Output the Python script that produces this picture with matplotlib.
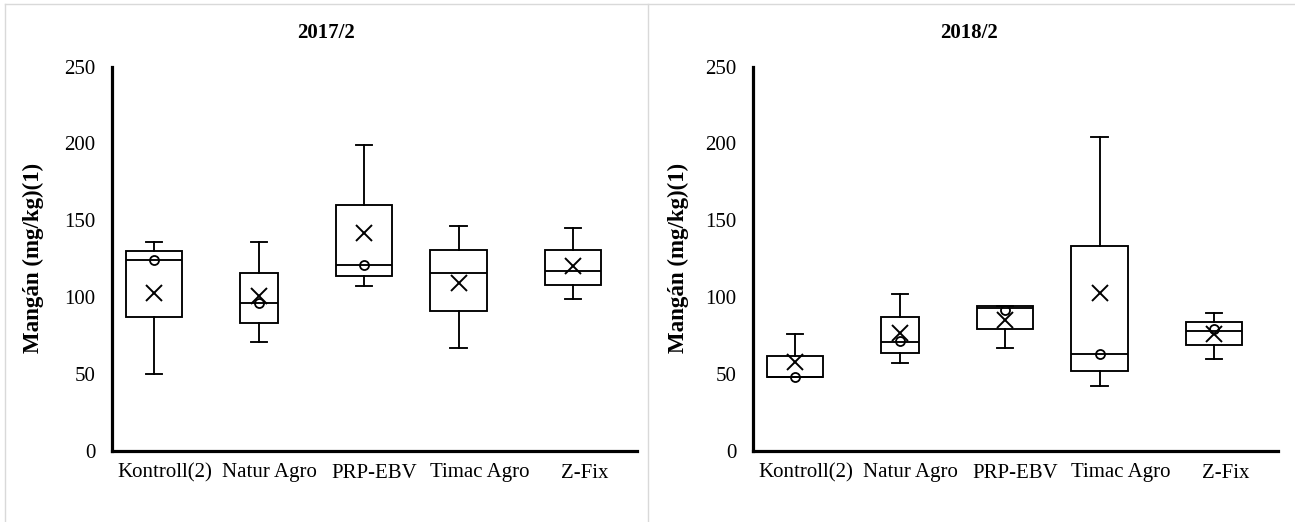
import matplotlib
matplotlib.use("Agg")
import matplotlib.pyplot as plt
from matplotlib.lines import Line2D

categories = ["Kontroll(2)", "Natur Agro", "PRP-EBV", "Timac Agro", "Z-Fix"]
y_ticks = [0, 50, 100, 150, 200, 250]
titles = ["2017/2", "2018/2"]
ylabel = "Mangán (mg/kg)(1)"

# 2017/2
min_2017 = [50, 71, 107, 67, 99]
q1_2017 = [87, 83, 114, 91, 108]
med_2017 = [124, 96, 121, 116, 117]
q3_2017 = [130, 116, 160, 131, 131]
max_2017 = [136, 136, 199, 146, 145]
mean_2017 = [103, 101, 142, 109, 120]
points_2017 = [[124], [96], [121], [], []]

# 2018/2
min_2018 = [48, 57, 67, 42, 60]
q1_2018 = [48, 64, 79, 52, 69]
med_2018 = [48, 71, 93, 63, 78]
q3_2018 = [62, 87, 94, 133, 84]
max_2018 = [76, 102, 94, 204, 90]
mean_2018 = [58, 77, 85, 103, 76]
points_2018 = [[48], [71.5], [92], [63], [79]]

datasets = [
    (min_2017, q1_2017, med_2017, q3_2017, max_2017, mean_2017, points_2017),
    (min_2018, q1_2018, med_2018, q3_2018, max_2018, mean_2018, points_2018),
]

# style / layout
box_widths = [0.54, 0.36, 0.54, 0.54, 0.54]
box_offsets = [-0.10, -0.10, -0.10, -0.20, -0.11]
font = "Liberation Serif"
lw = 1.35

W, H = 1295, 522
axes_px = [(112, 637), (753, 1278)]
y0_px, y250_px = 451, 66.5

fig = plt.figure(figsize=(12.95, 5.22), dpi=100)
fig.patch.set_facecolor("white")

for i, (lo, q1, md, q3, hi, mn, pts) in enumerate(datasets):
    x0, x1 = axes_px[i]
    ax = fig.add_axes([x0 / W, (H - y0_px) / H, (x1 - x0) / W, (y0_px - y250_px) / H])
    stats = []
    for k in range(len(categories)):
        stats.append(dict(whislo=lo[k], q1=q1[k], med=md[k], q3=q3[k], whishi=hi[k], mean=mn[k], fliers=[]))
    pos = [k + box_offsets[k] for k in range(len(categories))]
    ax.bxp(stats, positions=pos, widths=box_widths, showmeans=True, patch_artist=True,
           capwidths=0.16,
           boxprops=dict(facecolor="white", edgecolor="black", linewidth=lw),
           medianprops=dict(color="black", linewidth=lw),
           whiskerprops=dict(color="black", linewidth=lw),
           capprops=dict(color="black", linewidth=lw),
           meanprops=dict(marker="x", markeredgecolor="black", markersize=12, markeredgewidth=1.4))
    for k, p in enumerate(pts):
        if p:
            ax.plot([pos[k]] * len(p), p, linestyle="none", marker="o", markersize=6.5,
                    markerfacecolor="none", markeredgecolor="black", markeredgewidth=1.3, zorder=5)
    ax.set_xlim(-0.5, len(categories) - 0.5)
    ax.set_ylim(0, 250)
    ax.set_yticks(y_ticks)
    ax.set_xticks(range(len(categories)))
    ax.set_xticklabels(categories, fontfamily=font, fontsize=15)
    ax.set_yticklabels([str(t) for t in y_ticks], fontfamily=font, fontsize=15)
    ax.tick_params(axis="both", length=0)
    ax.tick_params(axis="y", pad=12)
    ax.tick_params(axis="x", pad=9)
    for s in ["top", "right"]:
        ax.spines[s].set_visible(False)
    for s in ["left", "bottom"]:
        ax.spines[s].set_linewidth(2.3)
        ax.spines[s].set_color("black")
    ax.set_facecolor("white")

    cx = (5 + 648) / 2 if i == 0 else (648 + 1290) / 2
    fig.text(cx / W, (H - 33) / H, titles[i], ha="center", va="center",
             fontfamily=font, fontsize=15, fontweight="bold")
    lx = 33 if i == 0 else 678
    fig.text(lx / W, (H - 258) / H, ylabel, rotation=90, ha="center", va="center",
             fontfamily=font, fontsize=16.5, fontweight="bold")

# panel borders
border = "#d9d9d9"
fig.add_artist(Line2D([5 / W, 5 / W], [0, (H - 4) / H], color=border, lw=1, transform=fig.transFigure))
fig.add_artist(Line2D([648 / W, 648 / W], [0, (H - 4) / H], color=border, lw=1, transform=fig.transFigure))
fig.add_artist(Line2D([5 / W, 1295 / W], [(H - 4) / H, (H - 4) / H], color=border, lw=1, transform=fig.transFigure))

fig.savefig("out.png", dpi=100, facecolor="white")
